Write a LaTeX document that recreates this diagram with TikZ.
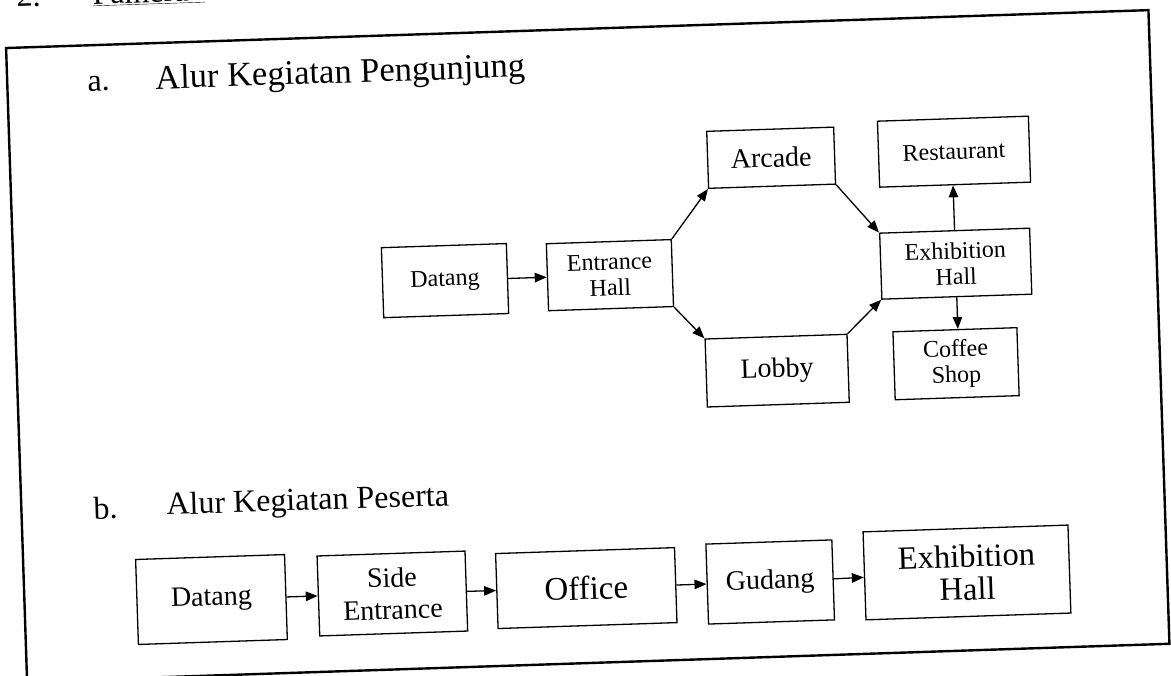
\documentclass[tikz,border=0pt]{standalone}
\usepackage{fontspec}
\setmainfont{Liberation Serif}
\usetikzlibrary{arrows.meta}

\begin{document}
\begin{tikzpicture}[x=1pt,y=-1pt,
  box/.style={draw, line width=1.3pt, inner sep=0pt, align=center},
  fa/.style={font=\fontsize{24}{26}\selectfont},
  fb/.style={font=\fontsize{28}{32}\selectfont},
  ttl/.style={anchor=base west, inner sep=0pt, font=\fontsize{32}{36}\selectfont},
  arr/.style={-{Triangle[length=12pt,width=9.5pt]}, line width=1.3pt},
  frame/.style={line width=2.4pt}]

\useasboundingbox (0,0) rectangle (1171,676);

\begin{scope}[rotate around={1.9:(585,338)}, transform shape]

  % heading above the frame
  \node[ttl] (num) at (28,-12) {2.};
  \node[ttl] (head) at (104,-12) {\underline{Pameran}};

  % outer frame
  \draw[frame] (16,29) rectangle (1159,663);

  % section a: visitor flow
  \node[ttl] (la) at (96,75) {a.};
  \node[ttl, font=\fontsize{34.5}{38}\selectfont] (ta) at (164,75) {Alur Kegiatan Pengunjung};

  \node[box, fa, minimum width=125, minimum height=70] (dat1) at (447,276) {Datang};
  \node[box, fa, minimum width=125, minimum height=67] (ent)  at (612,276) {Entrance\\Hall};
  \node[box, fb, minimum width=127, minimum height=57] (arc)  at (777,164) {Arcade};
  \node[box, fb, minimum width=142, minimum height=68] (lob)  at (776,377) {Lobby};
  \node[box, fa, minimum width=150, minimum height=66] (exa)  at (958,276) {Exhibition\\Hall};
  \node[box, fa, minimum width=151, minimum height=66] (res)  at (960,164) {Restaurant};
  \node[box, fa, minimum width=124, minimum height=68] (cof)  at (955,376) {Coffee\\Shop};

  \draw[arr] (dat1) -- (ent);
  \draw[arr] (ent.north east) -- (arc.south west);
  \draw[arr] (ent.south east) -- (lob.north west);
  \draw[arr] (arc.south east) -- (exa.north west);
  \draw[arr] (lob.north east) -- (exa.south west);
  \draw[arr] (exa.north) -- (exa.north |- res.south);
  \draw[arr] (exa.south) -- (exa.south |- cof.north);

  % section b: participant flow
  \node[ttl] (lb) at (88,503) {b.};
  \node[ttl] (tb) at (161,501) {Alur Kegiatan Peserta};

  \node[box, fb, minimum width=149, minimum height=85] (dat2) at (203,587) {Datang};
  \node[box, fb, minimum width=148, minimum height=80] (side) at (384,587) {Side\\Entrance};
  \node[box, minimum width=179, minimum height=75, font=\fontsize{33}{36}\selectfont] (off) at (578,588) {Office};
  \node[box, fb, minimum width=126, minimum height=80] (gud)  at (762,588) {Gudang};
  \node[box, minimum width=205, minimum height=88, font=\fontsize{32.5}{33}\selectfont] (exb) at (959,585) {Exhibition\\Hall};

  \draw[arr] (dat2) -- (side);
  \draw[arr] (side) -- (off);
  \draw[arr] (off) -- (gud);
  \draw[arr] (gud) -- (exb);

\end{scope}
\end{tikzpicture}
\end{document}
